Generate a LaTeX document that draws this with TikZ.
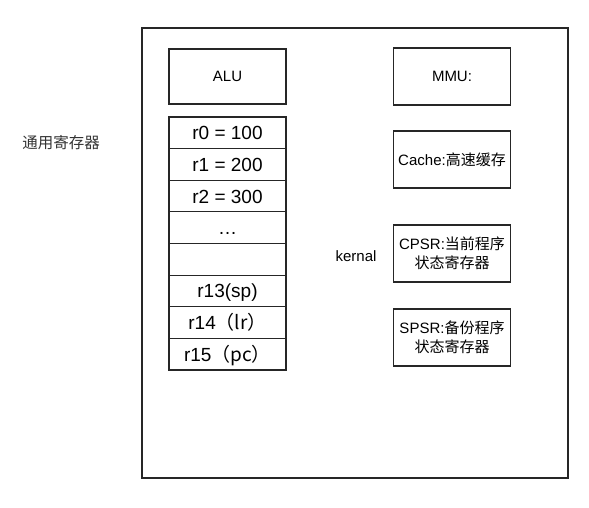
\documentclass[tikz,border=0pt]{standalone}
\usepackage{fontspec}
\setmainfont{Liberation Sans}
\newfontfamily\cjk{Noto Sans CJK SC}
\usepackage{tikz}
\usetikzlibrary{positioning}

\begin{document}
\begin{tikzpicture}[x=1pt,y=-1pt,
  box/.style={draw=black!85,line width=1.1pt,minimum width=117pt,minimum height=57pt,
    inner sep=0pt,align=center,font=\fontsize{15}{19}\selectfont},
  regbox/.style={box,minimum height=31.6pt,text height=16pt,text depth=2pt,
    font=\fontsize{19}{22}\selectfont}]
  \useasboundingbox (0,0) rectangle (589,507);
  \node[draw=black!85,line width=1.5pt,minimum width=426pt,minimum height=450pt] (cpu) at (355,253) {};
  \node[box,minimum height=55pt] (alu) at (227.5,76.5) {ALU};
  \node[box] (mmu) at (452,76.5) {MMU:};
  \node[box] (cache) at (452,159.5) {Cache:\cjk{高速缓存}};
  \node[box] (cpsr) at (452,253.5) {CPSR:\cjk{当前程序}\\\cjk{状态寄存器}};
  \node[box] (spsr) at (452,337.5) {SPSR:\cjk{备份程序}\\\cjk{状态寄存器}};
  % general registers
  \foreach \lab [count=\i from 0] in {{r0 = 100},{r1 = 200},{r2 = 300},{\ldots},{},{r13(sp)},
      {r14\cjk{（}lr\cjk{）}},{r15\cjk{（}pc\cjk{）}}}
    \node[regbox] (reg\i) at (227.5,{117+31.625*(\i+0.5)}) {\lab};
  \node[font=\fontsize{15}{18}\selectfont] (kernal) at (356,256) {kernal};
  \node[font=\fontsize{15.5}{18}\selectfont\cjk,text=black!80] (gpr) at (61,143) {通用寄存器};
\end{tikzpicture}
\end{document}
